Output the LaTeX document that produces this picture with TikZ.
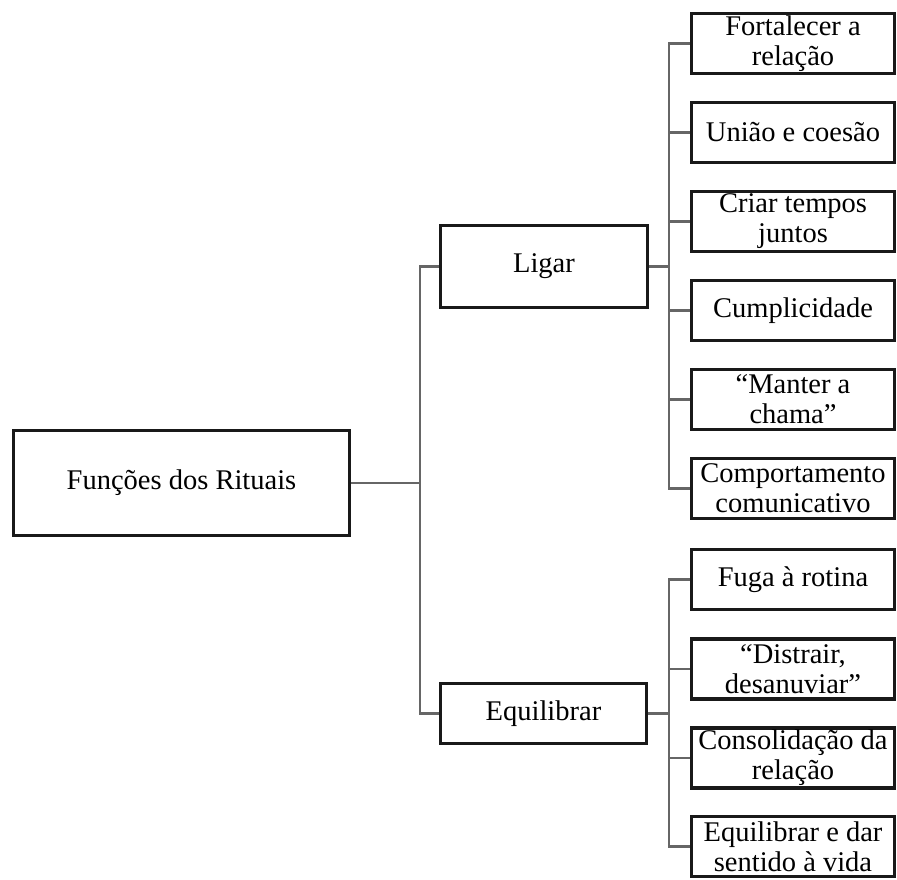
\documentclass[tikz,border=0pt]{standalone}
\usepackage{fontspec}
\setmainfont{Liberation Serif}
\begin{document}
\begin{tikzpicture}[x=1pt,y=-1pt,
  box/.style={draw=black!90, line width=3.4pt, align=center, inner sep=0pt,
    font=\fontsize{28.5}{30}\selectfont},
  leaf/.style={box, minimum width=203pt, minimum height=60pt},
  link/.style={draw=black!60, line width=2.3pt}]
\useasboundingbox (0,0) rectangle (897,879);
% root and second level
\node[box, minimum width=336pt, minimum height=105pt] (root) at (181.5,483) {Funções dos Rituais};
\node[box, minimum width=207pt, minimum height=82pt] (ligar) at (544,266.5) {Ligar};
\node[box, minimum width=206pt, minimum height=60pt] (equil) at (543.5,713.5) {Equilibrar};
% Ligar children
\node[leaf] (l1) at (793,43.5) {Fortalecer a\\relação};
\node[leaf] (l2) at (793,132.5) {União e coesão};
\node[leaf] (l3) at (793,221.5) {Criar tempos\\juntos};
\node[leaf] (l4) at (793,310.5) {Cumplicidade};
\node[leaf] (l5) at (793,399.5) {“Manter a\\chama”};
\node[leaf] (l6) at (793,488.5) {Comportamento\\comunicativo};
% Equilibrar children
\node[leaf] (e1) at (793,579.5) {Fuga à rotina};
\node[leaf] (e2) at (793,669) {“Distrair,\\desanuviar”};
\node[leaf] (e3) at (793,758) {Consolidação da\\relação};
\node[leaf] (e4) at (793,846.5) {Equilibrar e dar\\sentido à vida};
% connectors
\draw[link] (root.east) -- ++(69,0) |- (ligar.west);
\draw[link] (root.east) -- ++(69,0) |- (equil.west);
\foreach \n in {l1,l2,l3,l4,l5,l6}{
  \draw[link] (ligar.east) -- ++(20,0) |- (\n.west);
}
\foreach \n in {e1,e2,e3,e4}{
  \draw[link] (equil.east) -- ++(20.5,0) |- (\n.west);
}
\end{tikzpicture}
\end{document}
